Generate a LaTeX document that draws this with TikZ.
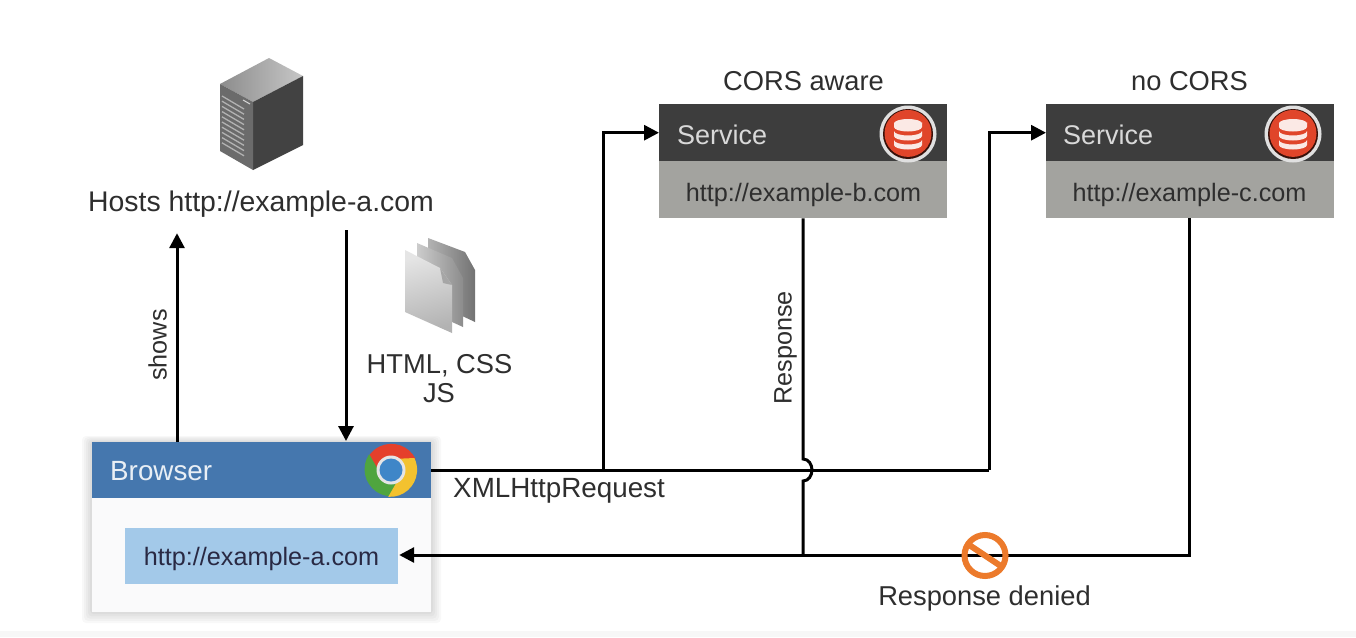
\documentclass[tikz,border=0pt]{standalone}
\usepackage{fontspec}
\setmainfont{Liberation Sans}
\usetikzlibrary{arrows.meta}
\definecolor{ink}{HTML}{2E2E2E}
\definecolor{bluehead}{HTML}{4577AE}
\definecolor{bluebody}{HTML}{FAFAFB}
\definecolor{blueurl}{HTML}{A3C9E9}
\definecolor{darkhead}{HTML}{3D3D3D}
\definecolor{greybody}{HTML}{A3A39F}
\definecolor{stoporange}{HTML}{EC7A2B}
\definecolor{dbred}{HTML}{E0452A}
\tikzset{
  lbl/.style={inner sep=0pt,text=ink,text height=23pt,text depth=4pt,align=center},
  fa/.style={font=\fontsize{25.2}{28}\selectfont},
  fb/.style={font=\fontsize{27.3}{30}\selectfont},
  fc/.style={font=\fontsize{28.4}{30}\selectfont},
  box/.style={inner sep=0pt,anchor=north west},
  wire/.style={draw=black,line width=3pt,line join=miter},
  arr/.style={wire,-{Triangle[length=15pt,width=15pt]}},
}
\newcommand{\dbicon}[1]{%
  \begin{scope}[shift={(#1)},y=1pt]
    \fill[white!88!black] (0,0) circle[radius=28.5];
    \fill[black!75!dbred] (0,0) circle[radius=25];
    \fill[dbred] (0,0.6) circle[radius=23.5];
    \foreach \yy in {-9,0,9}{
      \fill[white!88!dbred] (-14,\yy+3) -- (-14,\yy-2) arc[start angle=180,end angle=360,x radius=14,y radius=4.5] -- (14,\yy+3) arc[start angle=0,end angle=-180,x radius=14,y radius=4.5] -- cycle;
    }
    \fill[white!88!dbred] (0,10.5) ellipse[x radius=14,y radius=4.5];
  \end{scope}}
\begin{document}
\begin{tikzpicture}[x=1pt,y=-1pt]
\useasboundingbox (0,0) rectangle (1356,637);
\fill[white] (0,0) rectangle (1356,637);
\fill[black!3] (0,631) rectangle (1356,637);

% browser shadow
\foreach \g in {10,8,6,4,2}{
  \fill[black,opacity=.028,rounded corners=4pt] (92-\g,442-\g*.6) rectangle (431+\g,612+\g*1.1);
}
% browser
\node[box,fill=bluebody,minimum width=339pt,minimum height=170pt] (browser) at (92,442) {};
\node[box,fill=bluehead,minimum width=339pt,minimum height=56pt] (browserhead) at (92,442) {};
\node[lbl,fb,text=white!88!bluehead,anchor=west,font=\fontsize{27.8}{30}\selectfont] (browsertitle) at (110,471) {Browser};
\node[inner sep=0pt,fill=blueurl,minimum width=273pt,minimum height=56pt,fa,text=ink!90!blue,text height=23pt,text depth=4pt] (aurl) at (261.5,556) {http://example-a.com};
% chrome logo
\begin{scope}[shift={(391,470)},y=1pt]
  \foreach \ang/\col in {0/E5402B,120/4FA53F,240/F3C22F}{
    \definecolor{sect}{HTML}{\col}
    \fill[sect,rotate=\ang] (0,11) -- (24.6,11) arc[start angle=26,end angle=146,radius=27] -- (-9.5,-5.5) -- (0,0) -- cycle;
  }
  \fill[white!90!black] (0,0) circle[radius=14.5];
  \definecolor{chromeblue}{HTML}{3F86C8}
  \fill[chromeblue] (0,0) circle[radius=11.5];
\end{scope}

% services
\node[box,fill=greybody,minimum width=288pt,minimum height=114pt] (svcb) at (659,104) {};
\node[box,fill=darkhead,minimum width=288pt,minimum height=57pt] (svcbhead) at (659,104) {};
\node[box,fill=greybody,minimum width=288pt,minimum height=114pt] (svcc) at (1046,104) {};
\node[box,fill=darkhead,minimum width=288pt,minimum height=57pt] (svcchead) at (1046,104) {};
\node[lbl,text=white!85!black,anchor=west,font=\fontsize{27}{30}\selectfont] (svcbt) at (677,135) {Service};
\node[lbl,text=white!85!black,anchor=west,font=\fontsize{27}{30}\selectfont] (svcct) at (1063,135) {Service};
\node[lbl,fa] (burl) at (803.5,192) {http://example-b.com};
\node[lbl,fa] (curl) at (1189.5,192) {http://example-c.com};
\dbicon{908,134}
\dbicon{1293,134}
\node[lbl,fb] (corsaware) at (803.5,81) {CORS aware};
\node[lbl,fb] (nocors) at (1189.5,81) {no CORS};

% server
\node[lbl,fc,minimum height=60pt] (hosts) at (261,202) {Hosts http://example-a.com};
\begin{scope}
  \shade[left color=black!45,right color=black!22] (220,84) -- (269,58) -- (303,76) -- (253,102) -- cycle;
  \fill[black!74] (253,102) -- (303,76) -- (303,145) -- (253,170) -- cycle;
  \fill[black!58] (220,84) -- (253,102) -- (253,170) -- (220,151) -- cycle;
  \foreach \k in {0,...,9}{
    \draw[black!30,line width=1.3pt] (222,{96+\k*5.2}) -- (244,{109+\k*5.2});
  }
  \draw[black!15,line width=1pt] (243,100) -- (250,104);
\end{scope}

% documents
\shade[left color=black!30,right color=black!55] (428,238) -- (465,252) -- (475,270) -- (475,322) -- (428,300) -- cycle;
\shade[left color=black!20,right color=black!45] (417,243) -- (452,258) -- (463,278) -- (463,327) -- (417,306) -- cycle;
\shade[top color=black!10,bottom color=black!30,shading angle=15] (405,250) -- (440,268) -- (452,285) -- (452,333) -- (405,312) -- cycle;
\fill[black!35] (440,268) -- (452,285) -- (443,283) -- cycle;

\node[lbl,fb] (htmllabel) at (439.5,364) {HTML, CSS};
\node[lbl,fb] (jslabel) at (439,393) {JS};

% connectors
\coordinate (showsx) at (177,300);
\coordinate (sendx) at (346,300);
\draw[arr,shorten >=1pt] (browser.north -| showsx) -- (hosts.south -| showsx);
\draw[arr,shorten <=-2pt,shorten >=1pt] (hosts.south -| sendx) -- (browser.north -| sendx);
\node[lbl,fa,rotate=90] (showslabel) at (157,345) {shows};

\coordinate (xhrstart) at (431,470);
\coordinate (branchb) at (603,470);
\coordinate (crosspt) at (989,470);
\draw[wire] (xhrstart) -- (crosspt);
\draw[arr] (branchb) |- (svcbhead.west);
\draw[arr] (crosspt) |- (svcchead.west);
\node[lbl,anchor=west,font=\fontsize{27.8}{30}\selectfont] (xhrlabel) at (453,488) {XMLHttpRequest};

\coordinate (mergex) at (803,555);
\coordinate (cdrop) at (1189,555);
\draw[wire] (svcb.south -| mergex) -- (803,459) to[out=0,in=90] (812,470) to[out=-90,in=0] (803,481) -- (mergex);
\draw[arr,shorten >=1pt] (svcc.south -| cdrop) -- (cdrop) -- (aurl.east |- cdrop);
\node[lbl,fa,rotate=90] (resplabel) at (782,348) {Response};

% stop icon
\begin{scope}[shift={(985,555.5)},y=1pt]
  \draw[stoporange,line width=6pt] (0,0) circle[radius=20.5];
  \draw[stoporange,line width=6pt] (-15,10) -- (15,-10);
\end{scope}
\node[lbl,fb] (denied) at (984.5,596) {Response denied};
\end{tikzpicture}
\end{document}
